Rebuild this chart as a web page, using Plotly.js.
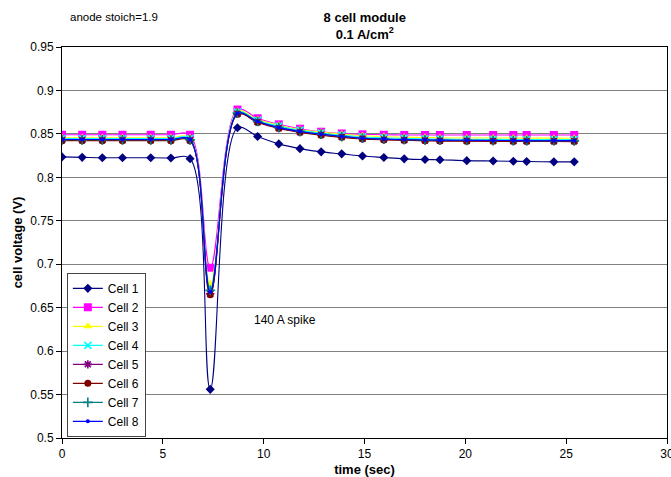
<!DOCTYPE html>
<html>
<head>
<meta charset="utf-8">
<script src="https://cdn.plot.ly/plotly-3.0.1.min.js"></script>
<style>html,body{margin:0;padding:0;background:#fff;}#chart{width:671px;height:477px;}</style>
</head>
<body>
<div id="chart"></div>
<script>
var timeSec = [0, 1, 2, 3, 4.4, 5.4, 6.35, 7.35, 8.7, 9.7, 10.75, 11.8, 12.85, 13.87, 14.9, 15.96, 16.97, 18.0, 18.74, 20.07, 21.38, 22.38, 23.04, 24.39, 25.4];

var cell1 = [0.8235, 0.823, 0.8225, 0.8225, 0.8225, 0.8222, 0.8215, 0.556, 0.857, 0.847, 0.8385, 0.833, 0.8293, 0.827, 0.8245, 0.8228, 0.8213, 0.8205, 0.8203, 0.8192, 0.8188, 0.8185, 0.8182, 0.8178, 0.8178];
var cell2 = [0.849, 0.849, 0.849, 0.849, 0.849, 0.849, 0.849, 0.696, 0.878, 0.868, 0.861, 0.856, 0.8525, 0.8505, 0.8495, 0.849, 0.8488, 0.8487, 0.8487, 0.8487, 0.8487, 0.8487, 0.8487, 0.8487, 0.8487];
var cell3 = [0.8455, 0.8455, 0.8455, 0.8455, 0.8455, 0.8455, 0.8455, 0.677, 0.876, 0.8665, 0.86, 0.855, 0.852, 0.8495, 0.8478, 0.847, 0.8462, 0.8458, 0.8455, 0.8453, 0.8452, 0.8452, 0.8451, 0.8451, 0.845];
var cell4 = [0.8445, 0.8445, 0.8445, 0.8445, 0.8445, 0.8445, 0.8445, 0.672, 0.875, 0.8655, 0.859, 0.854, 0.851, 0.8485, 0.8465, 0.8455, 0.8448, 0.8443, 0.844, 0.8438, 0.8437, 0.8436, 0.8435, 0.8435, 0.8435];
var cell5 = [0.8428, 0.8428, 0.8428, 0.8428, 0.8428, 0.8428, 0.8428, 0.666, 0.873, 0.8638, 0.8568, 0.8522, 0.849, 0.8465, 0.8446, 0.8436, 0.843, 0.8425, 0.8422, 0.842, 0.8419, 0.8418, 0.8417, 0.8417, 0.8416];
var cell6 = [0.8422, 0.8422, 0.8422, 0.8422, 0.8422, 0.8422, 0.8422, 0.665, 0.8725, 0.8632, 0.8562, 0.8517, 0.8485, 0.846, 0.8441, 0.8431, 0.8425, 0.842, 0.8417, 0.8415, 0.8414, 0.8413, 0.8412, 0.8412, 0.8411];
var cell7 = [0.8432, 0.8432, 0.8432, 0.8432, 0.8432, 0.8432, 0.8432, 0.67, 0.874, 0.8645, 0.8575, 0.853, 0.8497, 0.8472, 0.8452, 0.8442, 0.8436, 0.8431, 0.8428, 0.8426, 0.8425, 0.8424, 0.8423, 0.8423, 0.8422];
var cell8 = [0.8435, 0.8435, 0.8435, 0.8435, 0.8435, 0.8435, 0.8435, 0.668, 0.8735, 0.8642, 0.8572, 0.8527, 0.8495, 0.847, 0.845, 0.844, 0.8434, 0.843, 0.8428, 0.8426, 0.8424, 0.8423, 0.8422, 0.8422, 0.8422];

var seriesNames = ["Cell 1", "Cell 2", "Cell 3", "Cell 4", "Cell 5", "Cell 6", "Cell 7", "Cell 8"];
var seriesValues = [cell1, cell2, cell3, cell4, cell5, cell6, cell7, cell8];

var styles = [
  {color: "#000080", symbol: "diamond", size: 7, lineOnly: false},
  {color: "#FF00FF", symbol: "square", size: 8, lineOnly: false},
  {color: "#FFFF00", symbol: "triangle-up", size: 8, lineOnly: false},
  {color: "#00FFFF", symbol: "x-thin", size: 7, lineOnly: true},
  {color: "#800080", symbol: "asterisk", size: 7, lineOnly: true},
  {color: "#800000", symbol: "circle", size: 7, lineOnly: false},
  {color: "#008080", symbol: "cross-thin", size: 7, lineOnly: true},
  {color: "#0000FF", symbol: "circle", size: 4, lineOnly: false}
];

var traces = seriesNames.map(function (name, i) {
  var s = styles[i];
  var marker = {symbol: s.symbol, size: s.size, color: s.color};
  if (s.lineOnly) {
    marker.line = {color: s.color, width: 1.6};
  } else {
    marker.line = {width: 0};
  }
  return {
    type: "scatter",
    mode: "lines+markers",
    name: name,
    x: timeSec,
    y: seriesValues[i],
    line: {color: s.color, width: 1.1, shape: "spline", smoothing: 1},
    marker: marker
  };
});

var layout = {
  width: 671,
  height: 477,
  margin: {l: 62, r: 4, t: 47, b: 39},
  paper_bgcolor: "#fff",
  plot_bgcolor: "#fff",
  font: {family: "Liberation Sans, Arial, sans-serif", size: 12, color: "#000"},
  title: {
    text: "8 cell module<br>0.1 A/cm<sup>2</sup>",
    font: {size: 13, weight: "bold", color: "#000"},
    x: 0.5436, xanchor: "center",
    y: 0.954, yanchor: "top", yref: "container"
  },
  showlegend: true,
  legend: {
    x: 0.008, y: 0.003, xanchor: "left", yanchor: "bottom",
    bgcolor: "#fff", bordercolor: "#444", borderwidth: 1,
    font: {size: 12, color: "#000"},
    itemwidth: 30,
    tracegroupgap: 0
  },
  xaxis: {
    range: [0, 30],
    tick0: 0, dtick: 5,
    showgrid: false, zeroline: false,
    showline: true, linecolor: "#000", linewidth: 1, mirror: true,
    ticks: "outside", ticklen: 5, tickcolor: "#000",
    ticklabeloverflow: "allow",
    title: {text: "time (sec)", font: {size: 13, weight: "bold"}, standoff: 10}
  },
  yaxis: {
    range: [0.5, 0.95],
    tick0: 0.5, dtick: 0.05,
    showgrid: true, gridcolor: "#808080", gridwidth: 1,
    zeroline: false,
    showline: true, linecolor: "#000", linewidth: 1, mirror: true,
    ticks: "outside", ticklen: 5, tickcolor: "#000",
    title: {text: "cell voltage (V)", font: {size: 13, weight: "bold"}, standoff: 4}
  },
  annotations: [
    {text: "anode stoich=1.9", xref: "paper", yref: "paper", x: 0.01, y: 1.0767,
     xanchor: "left", yanchor: "middle", showarrow: false, font: {size: 11.5}},
    {text: "140 A spike", xref: "x", yref: "y", x: 9.42, y: 0.636,
     xanchor: "left", yanchor: "middle", showarrow: false, font: {size: 12}}
  ]
};

Plotly.newPlot("chart", traces, layout, {displayModeBar: false, staticPlot: true});
</script>
</body>
</html>
